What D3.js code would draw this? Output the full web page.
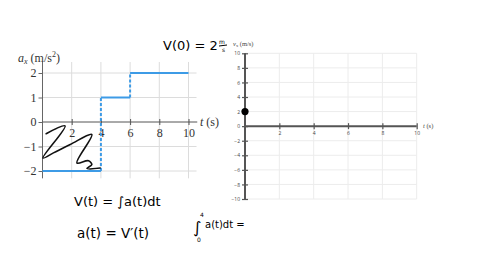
<!DOCTYPE html>
<html>
<head>
<meta charset="utf-8">
<script src="https://cdn.jsdelivr.net/npm/d3@7"></script>
<style>
  body { margin: 0; background: #fff; }
  svg { display: block; }
</style>
</head>
<body>
<div id="chart"></div>
<script>
var svgWidth = 480;
var svgHeight = 270;

// acceleration graph data (piecewise constant)
var segStart = [0, 4, 6];
var segEnd = [4, 6, 10];
var accel = [-2, 1, 2];
var aTicks = [-2, -1, 0, 1, 2];
var aTickLabels = ["\u22122", "\u22121", "0", "1", "2"];
var tTicks = [2, 4, 6, 8, 10];

// velocity graph (empty grid, one starting point)
var vTicks = [-10, -8, -6, -4, -2, 0, 2, 4, 6, 8, 10];
var startT = [0];
var startV = [2];

// hand-drawn scribble, in (t, a) units of the left graph
var scribbleT = [0.25, 1.55, 0.03, 0.75, 1.9, 3.38, 2.36, 3.15, 3.38, 3.04, 3.95];
var scribbleA = [-0.48, -0.16, -1.47, -1.26, -0.92, -0.51, -1.67, -1.58, -1.74, -1.9, -1.88];

var svg = d3.select("#chart")
  .append("svg")
  .attr("width", svgWidth)
  .attr("height", svgHeight);

svg.append("rect").attr("width", svgWidth).attr("height", svgHeight).attr("fill", "#fff");

// ---------- left graph: a_x vs t ----------
var xA = d3.scaleLinear().domain([0, 10]).range([42.5, 188.5]);
var yA = d3.scaleLinear().domain([-2, 2]).range([171, 73]);

var left = svg.append("g");

// grid
left.selectAll(".vgrid").data(tTicks).enter().append("line")
  .attr("x1", d => xA(d)).attr("x2", d => xA(d))
  .attr("y1", yA(2.45)).attr("y2", yA(-2.3))
  .attr("stroke", "#dcdcdc").attr("stroke-width", 1);

left.selectAll(".hgrid").data(aTicks.filter(d => d !== 0)).enter().append("line")
  .attr("x1", xA(0)).attr("x2", xA(10.55))
  .attr("y1", d => yA(d)).attr("y2", d => yA(d))
  .attr("stroke", "#dcdcdc").attr("stroke-width", 1);

// axes
var leftAxis = d3.axisLeft(yA).tickValues(aTicks).tickSize(4).tickFormat((d, i) => aTickLabels[i]);
var gy = left.append("g").attr("transform", `translate(${xA(0)},0)`).call(leftAxis);
gy.select(".domain").attr("d", `M0,${yA(2.45)}V${yA(-2.3)}`).attr("stroke", "#666");
gy.selectAll(".tick line").attr("stroke", "#666");
gy.selectAll(".tick text")
  .attr("font-family", "Liberation Serif").attr("font-size", 12).attr("fill", "#333").attr("x", -6);

var bottomAxis = d3.axisBottom(xA).tickValues(tTicks).tickSize(3);
var gx = left.append("g").attr("transform", `translate(0,${yA(0)})`).call(bottomAxis);
gx.select(".domain").attr("d", `M${xA(0)},0H${xA(10.6)}`).attr("stroke", "#555");
gx.selectAll(".tick line").attr("y1", -3).attr("stroke", "#555");
gx.selectAll(".tick text")
  .attr("font-family", "Liberation Serif").attr("font-size", 12).attr("fill", "#333").attr("y", 6);

// step lines
var blue = "#3d9be6";
left.selectAll(".step").data(accel).enter().append("line")
  .attr("x1", (d, i) => xA(segStart[i])).attr("x2", (d, i) => xA(segEnd[i]))
  .attr("y1", d => yA(d)).attr("y2", d => yA(d))
  .attr("stroke", blue).attr("stroke-width", 2);

left.selectAll(".jump").data(accel.slice(1)).enter().append("line")
  .attr("x1", (d, i) => xA(segStart[i + 1])).attr("x2", (d, i) => xA(segStart[i + 1]))
  .attr("y1", (d, i) => yA(accel[i])).attr("y2", d => yA(d))
  .attr("stroke", blue).attr("stroke-width", 2).attr("stroke-dasharray", "3,2");

// labels
var aLabel = left.append("text").attr("x", 18).attr("y", 62)
  .attr("font-family", "Liberation Serif").attr("font-size", 12).attr("fill", "#333");
aLabel.append("tspan").attr("font-style", "italic").text("a");
aLabel.append("tspan").attr("font-style", "italic").attr("font-size", 8).attr("dy", 2).text("x");
aLabel.append("tspan").attr("dy", -2).text(" (m/s");
aLabel.append("tspan").attr("font-size", 8).attr("dy", -5).text("2");
aLabel.append("tspan").attr("dy", 5).text(")");

var tLabel = left.append("text").attr("x", 200).attr("y", yA(0) + 4)
  .attr("font-family", "Liberation Serif").attr("font-size", 12).attr("fill", "#333");
tLabel.append("tspan").attr("font-style", "italic").text("t");
tLabel.append("tspan").text(" (s)");

// scribble
var scribble = d3.line().curve(d3.curveCatmullRom.alpha(0.5))
  .x(d => xA(d[0])).y(d => yA(d[1]));
left.append("path")
  .attr("d", scribble(d3.zip(scribbleT, scribbleA)))
  .attr("fill", "none").attr("stroke", "#111").attr("stroke-width", 1.6)
  .attr("stroke-linejoin", "round").attr("stroke-linecap", "round");

// ---------- right graph: v_x vs t ----------
var xV = d3.scaleLinear().domain([0, 10]).range([245, 416.7]);
var yV = d3.scaleLinear().domain([-10, 10]).range([199, 53.3]);

var right = svg.append("g");

right.selectAll(".vgrid").data(tTicks).enter().append("line")
  .attr("x1", d => xV(d)).attr("x2", d => xV(d))
  .attr("y1", yV(10)).attr("y2", yV(-10))
  .attr("stroke", "#ececec").attr("stroke-width", 1);

right.selectAll(".hgrid").data(vTicks.filter(d => d !== 0)).enter().append("line")
  .attr("x1", xV(0)).attr("x2", xV(10))
  .attr("y1", d => yV(d)).attr("y2", d => yV(d))
  .attr("stroke", "#ececec").attr("stroke-width", 1);

var vAxis = d3.axisLeft(yV).tickValues(vTicks).tickSize(3);
var gvy = right.append("g").attr("transform", `translate(${xV(0)},0)`).call(vAxis);
gvy.select(".domain").attr("d", `M0,${yV(10)}V${yV(-10)}`).attr("stroke", "#555").attr("stroke-width", 2);
gvy.selectAll(".tick line").attr("x2", 3).attr("x1", -3).attr("stroke", "#555").attr("stroke-width", 1.2);
gvy.selectAll(".tick text")
  .attr("font-family", "Open Sans").attr("font-size", 5).attr("fill", "#444").attr("x", -5);

var vxAxis = d3.axisBottom(xV).tickValues(tTicks).tickSize(3);
var gvx = right.append("g").attr("transform", `translate(0,${yV(0)})`).call(vxAxis);
gvx.select(".domain").attr("d", `M${xV(0)},0H${xV(10)}`).attr("stroke", "#555").attr("stroke-width", 2);
gvx.selectAll(".tick line").attr("y1", -3).attr("stroke", "#555").attr("stroke-width", 1.2);
gvx.selectAll(".tick text")
  .attr("font-family", "Open Sans").attr("font-size", 5).attr("fill", "#444").attr("y", 5);

var vLabel = right.append("text").attr("x", 233).attr("y", 46)
  .attr("font-family", "Liberation Serif").attr("font-size", 6.5).attr("fill", "#444");
vLabel.append("tspan").attr("font-style", "italic").text("v");
vLabel.append("tspan").attr("font-size", 4.5).attr("dy", 1).text("x");
vLabel.append("tspan").attr("dy", -1).text(" (m/s)");

var tvLabel = right.append("text").attr("x", 423).attr("y", yV(0) + 2)
  .attr("font-family", "Liberation Serif").attr("font-size", 6.5).attr("fill", "#444");
tvLabel.append("tspan").attr("font-style", "italic").text("t");
tvLabel.append("tspan").text(" (s)");

right.selectAll(".start").data(startV).enter().append("circle")
  .attr("cx", (d, i) => xV(startT[i])).attr("cy", d => yV(d))
  .attr("r", 3.6).attr("fill", "#000");

// ---------- handwritten notes ----------
var hand = svg.append("g")
  .attr("font-family", "DejaVu Sans").attr("fill", "#000");

hand.append("text").attr("x", 163).attr("y", 50).attr("font-size", 13).text("V(0) = 2");
hand.append("text").attr("x", 219).attr("y", 44).attr("font-size", 6).text("m");
hand.append("text").attr("x", 222).attr("y", 52).attr("font-size", 6).text("s");
hand.append("line").attr("x1", 219).attr("x2", 227).attr("y1", 46).attr("y2", 45)
  .attr("stroke", "#000").attr("stroke-width", 1);

hand.append("text").attr("x", 74).attr("y", 206).attr("font-size", 13).text("V(t) = \u222Ba(t)dt");
hand.append("text").attr("x", 77).attr("y", 238).attr("font-size", 13.5).text("a(t) = V\u2032(t)");

hand.append("text").attr("x", 193).attr("y", 233).attr("font-size", 16).text("\u222B");
hand.append("text").attr("x", 200).attr("y", 217).attr("font-size", 6).text("4");
hand.append("text").attr("x", 197).attr("y", 242).attr("font-size", 6).text("0");
hand.append("text").attr("x", 205).attr("y", 228).attr("font-size", 10).text("a(t)dt =");
</script>
</body>
</html>
